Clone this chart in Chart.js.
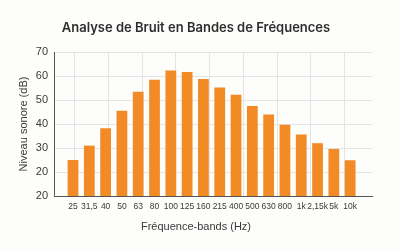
<!DOCTYPE html>
<html lang="fr">
<head>
  <meta charset="UTF-8" />
  <title>Analyse de Bruit en Bandes de Fréquences</title>
  <script src="https://cdn.jsdelivr.net/npm/chart.js"></script>
  <style>
    html, body { margin: 0; padding: 0; background: #fdfdfb; }
    canvas { display: block; }
  </style>
</head>
<body>
  <canvas id="grafico" width="400" height="250"></canvas>

  <script>
    // Bandes de fréquences (étiquettes de l'axe X)
    const bandes = ['25', '31,5', '40', '50', '63', '80', '100', '125', '160', '215',
                    '400', '500', '630', '800', '1k', '2,15k', '5k', '10k'];
    // Niveau sonore (dB)
    const niveaux = [25, 31, 38.2, 45.5, 53.4, 58.4, 62.3, 61.7, 58.7, 55.2,
                     52.2, 47.5, 44, 39.7, 35.6, 32, 29.6, 24.9];
    // Étiquettes de l'axe Y (le bas est marqué 20 dans l'original)
    const ticksY = ['20', '20', '30', '40', '50', '60', '70'];

    const texte = '#3a3a3a';
    const grille = '#e4e4e4';

    const points = niveaux.map((v, i) => ({ x: i, y: v }));

    new Chart(document.getElementById('grafico'), {
      type: 'bar',
      data: {
        datasets: [{
          label: 'Niveau sonore',
          data: points,
          backgroundColor: '#f28a25',
          borderWidth: 0,
          barPercentage: 0.66,
          categoryPercentage: 1
        }]
      },
      options: {
        responsive: false,
        animation: false,
        layout: { padding: { left: 20, right: 28, top: 12, bottom: 0 } },
        plugins: {
          legend: { display: false },
          tooltip: { enabled: false },
          title: {
            display: true,
            text: 'Analyse de Bruit en Bandes de Fréquences',
            color: '#2e2e2e',
            font: { family: 'Inter', size: 13, weight: '600' },
            padding: { top: 8, bottom: 16.4 }
          },
          // titre de l'axe X, placé en bas
          subtitle: {
            display: true,
            position: 'bottom',
            text: 'Fréquence-bands (Hz)',
            color: texte,
            font: { family: 'Liberation Sans', size: 11 },
            padding: { top: 0, bottom: 16.4 }
          }
        },
        scales: {
          x: {
            type: 'linear',
            offset: false,
            min: -1.166,
            max: 18.34,
            afterBuildTicks: (s) => { s.ticks = bandes.map((b, i) => ({ value: i })); },
            afterFit: (s) => { s.height = 24.4; },
            ticks: {
              color: texte,
              font: { family: 'Liberation Sans', size: 8.5 },
              maxRotation: 0,
              autoSkip: false,
              padding: 6,
              callback: (v) => bandes[v] ?? ''
            },
            grid: { display: false, drawTicks: false },
            border: { display: true, color: '#555', width: 1 }
          },
          x2: {
            type: 'linear',
            position: 'bottom',
            offset: false,
            min: -1.119,
            max: 8.318,
            afterBuildTicks: (s) => { s.ticks = [0, 1, 2, 3, 4, 5, 6, 7].map(v => ({ value: v })); },
            afterFit: (s) => { s.height = 0; },
            ticks: { display: false },
            grid: { color: grille, drawTicks: false },
            border: { display: false }
          },
          y: {
            min: 10,
            max: 70,
            afterFit: (s) => { s.width = 34; },
            ticks: {
              stepSize: 10,
              color: texte,
              font: { family: 'Liberation Sans', size: 11 },
              padding: 6,
              callback: (v) => ticksY[(v - 10) / 10]
            },
            grid: { color: grille, drawTicks: false },
            border: { display: true, color: '#555', width: 1 },
            title: {
              display: true,
              text: 'Niveau sonore (dB)',
              color: texte,
              font: { family: 'Liberation Sans', size: 11 },
              padding: { top: -2.6, bottom: 0 }
            }
          }
        }
      }
    });
  </script>
</body>
</html>
